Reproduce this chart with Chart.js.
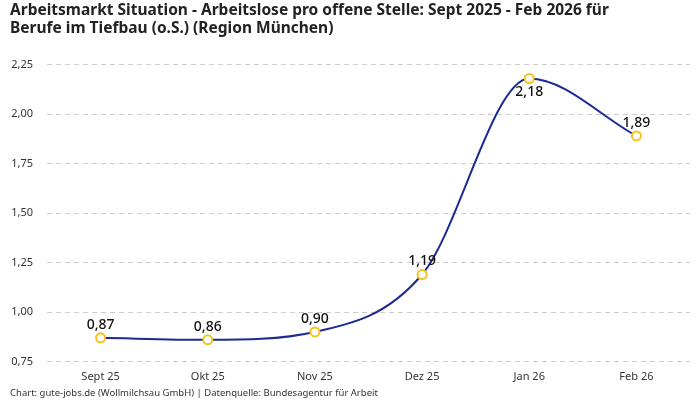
<!DOCTYPE html>
<html>
<head>
<meta charset="utf-8">
<script src="https://cdn.jsdelivr.net/npm/chart.js@4"></script>
<style>
  body { margin: 0; background: #fff; }
  #wrap { width: 700px; height: 400px; }
</style>
</head>
<body>
<div id="wrap"><canvas id="arbeitsmarktChart"></canvas></div>
<script>
const months = ["Sept 25", "Okt 25", "Nov 25", "Dez 25", "Jan 26", "Feb 26"];
const ratio = [0.87, 0.86, 0.9, 1.19, 2.18, 1.89];
// label below the point instead of above (top of the curve)
const labelBelow = [false, false, false, false, true, false];

const fmt = (v) => v.toFixed(2).replace(".", ",");

const valueLabels = {
  id: "valueLabels",
  afterDatasetsDraw(chart) {
    const ctx = chart.ctx;
    const meta = chart.getDatasetMeta(0);
    ctx.save();
    ctx.font = "500 14px 'Noto Sans'";
    ctx.fillStyle = "#111";
    ctx.textAlign = "center";
    meta.data.forEach((pt, i) => {
      if (labelBelow[i]) {
        ctx.textBaseline = "top";
        ctx.fillText(fmt(ratio[i]), pt.x, pt.y + 7);
      } else {
        ctx.textBaseline = "bottom";
        ctx.fillText(fmt(ratio[i]), pt.x, pt.y - 6);
      }
    });
    ctx.restore();
  },
};

new Chart(document.getElementById("arbeitsmarktChart"), {
  type: "line",
  data: {
    labels: months,
    datasets: [
      {
        data: ratio,
        borderColor: "#1c2a94",
        borderWidth: 2,
        cubicInterpolationMode: "monotone",
        pointRadius: 4.5,
        pointBorderWidth: 2,
        pointBorderColor: "#f7c21c",
        pointBackgroundColor: "#fff",
        clip: false,
      },
    ],
  },
  options: {
    responsive: true,
    maintainAspectRatio: false,
    animation: false,
    layout: { padding: { left: 10, right: 10, top: 2, bottom: 0 } },
    plugins: {
      legend: { display: false },
      tooltip: { enabled: false },
      title: {
        display: true,
        align: "start",
        text: [
          "Arbeitsmarkt Situation - Arbeitslose pro offene Stelle: Sept 2025 - Feb 2026 für",
          "Berufe im Tiefbau (o.S.) (Region München)",
        ],
        color: "#222",
        font: { family: "'Noto Sans'", size: 15.5, weight: "bold", lineHeight: 1.15 },
        padding: { top: 0, bottom: 27 },
      },
      subtitle: {
        display: true,
        position: "bottom",
        align: "start",
        text: "Chart: gute-jobs.de (Wollmilchsau GmbH) | Datenquelle: Bundesagentur für Arbeit",
        color: "#333",
        font: { family: "'Noto Sans'", size: 9.5, lineHeight: 1.2 },
        padding: { top: 0, bottom: 1 },
      },
    },
    scales: {
      x: {
        offset: true,
        grid: { display: false },
        border: { display: false },
        ticks: { color: "#333", font: { family: "'Noto Sans'", size: 11 }, padding: 1 },
        afterFit: (scale) => { scale.height = 26; },
      },
      y: {
        min: 0.75,
        max: 2.25,
        grid: { color: "#cccccc", drawTicks: false },
        border: { display: false, dash: [5, 4] },
        ticks: {
          stepSize: 0.25,
          color: "#333",
          padding: 14,
          font: { family: "'Noto Sans'", size: 11 },
          callback: (v) => fmt(v),
        },
        afterFit: (scale) => { scale.width = 37; },
      },
    },
  },
  plugins: [valueLabels],
});
</script>
</body>
</html>
